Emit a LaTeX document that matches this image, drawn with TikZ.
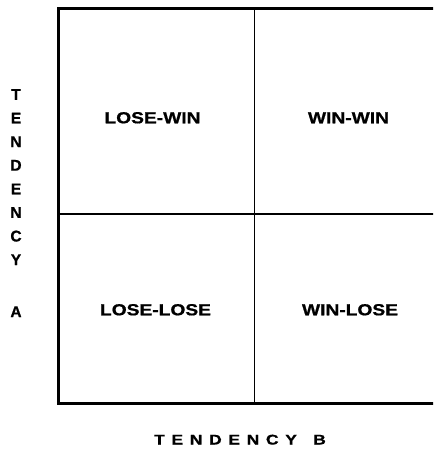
\documentclass[tikz,border=0pt]{standalone}
\usepackage{fontspec}
\setmainfont{Liberation Sans}
\newfontfamily\heavy[FakeBold=0.8]{Liberation Sans Bold}
\begin{document}
\begin{tikzpicture}[x=1pt,y=-1pt,
  frame/.style={line width=3pt},
  divider/.style={line width=1.7pt},
  quad/.style={font=\heavy\fontsize{16}{18}\selectfont, inner sep=0pt, anchor=base},
  axisv/.style={font=\heavy\fontsize{15.5}{23.6}\selectfont, inner sep=0pt, anchor=north, align=center},
  axish/.style={font=\heavy\fontsize{14}{16}\selectfont, inner sep=0pt, anchor=base}]
\useasboundingbox (0,0) rectangle (433,449);
\clip (0,0) rectangle (433,449);
\fill[white] (0,0) rectangle (433,449);
\draw[frame] (58,9) rectangle (442,403);
\draw[divider] (254.5,9) -- (254.5,403);
\draw[divider] (58,214) -- (442,214);
\node[quad] (losewin) at (152.5,123.3) {\scalebox{1.2}[1]{LOSE-WIN}};
\node[quad] (winwin) at (348.5,123.3) {\scalebox{1.2}[1]{WIN-WIN}};
\node[quad] (loselose) at (155.5,315.3) {\scalebox{1.2}[1]{LOSE-LOSE}};
\node[quad] (winlose) at (350,315.3) {\scalebox{1.2}[1]{WIN-LOSE}};
\node[axisv] (tendA) at (16,89) {T\\E\\N\\D\\E\\N\\C\\Y\\[28.4pt]A};
\node[axish] (tendB) at (240,444.5) {\scalebox{1.25}[1]{\addfontfeatures{LetterSpace=38}TENDENCY\hspace*{13pt}B}};
\end{tikzpicture}
\end{document}
